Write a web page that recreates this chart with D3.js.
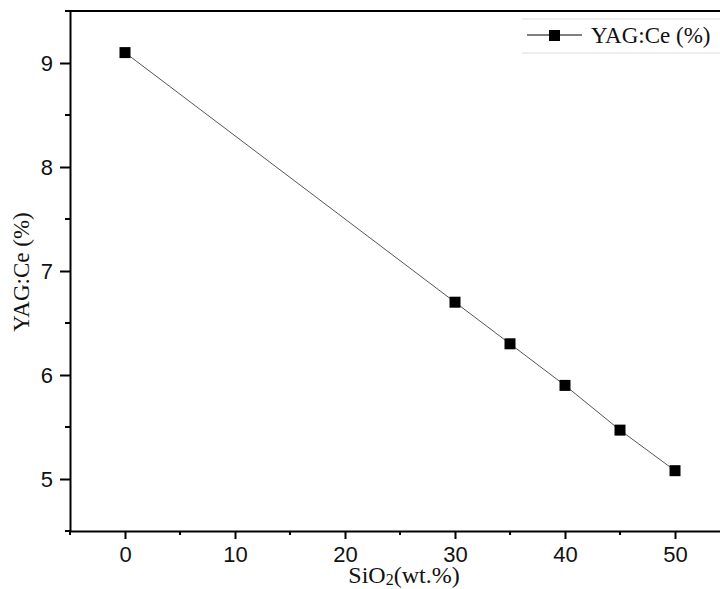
<!DOCTYPE html>
<html>
<head>
<meta charset="utf-8">
<script src="https://cdn.jsdelivr.net/npm/d3@7"></script>
<style>
  body { margin: 0; background: #fff; }
  svg { display: block; }
</style>
</head>
<body>
<div id="chart"></div>
<script>
  // data
  const sio2 = [0, 30, 35, 40, 45, 50];
  const yagCe = [9.1, 6.7, 6.3, 5.9, 5.47, 5.08];
  const xTicks = [0, 10, 20, 30, 40, 50];
  const yTicks = [5, 6, 7, 8, 9];
  const seriesName = "YAG:Ce (%)";

  const width = 720, height = 589;
  // plot box runs past the right edge of the picture
  const margin = {top: 11, left: 70, bottom: 58};

  const svg = d3.select("#chart").append("svg")
      .attr("width", width)
      .attr("height", height);

  const x = d3.scaleLinear().domain([-5, 55]).range([margin.left, margin.left + 660]);
  const y = d3.scaleLinear().domain([4.5, 9.5]).range([height - margin.bottom, margin.top]);

  const sans = "'Liberation Sans', Arial, sans-serif";
  const serif = "'Liberation Serif', 'Times New Roman', serif";

  // minor ticks
  const xMinor = d3.range(-5, 56, 5).filter(v => !xTicks.includes(v));
  const yMinor = d3.range(4.5, 9.6, 1);

  svg.append("g")
      .attr("transform", "translate(0," + y(4.5) + ")")
      .selectAll("line").data(xMinor).enter().append("line")
      .attr("x1", d => x(d)).attr("x2", d => x(d))
      .attr("y1", 0).attr("y2", 4)
      .attr("stroke", "#000").attr("stroke-width", 2);

  svg.append("g")
      .attr("transform", "translate(" + x(-5) + ",0)")
      .selectAll("line").data(yMinor).enter().append("line")
      .attr("y1", d => y(d)).attr("y2", d => y(d))
      .attr("x1", 0).attr("x2", -5)
      .attr("stroke", "#000").attr("stroke-width", 2);

  // axes
  const xAxis = svg.append("g")
      .attr("transform", "translate(0," + y(4.5) + ")")
      .call(d3.axisBottom(x).tickValues(xTicks).tickFormat(d3.format("d"))
        .tickSize(8).tickPadding(7).tickSizeOuter(0));

  const yAxis = svg.append("g")
      .attr("transform", "translate(" + x(-5) + ",0)")
      .call(d3.axisLeft(y).tickValues(yTicks).tickFormat(d3.format("d"))
        .tickSize(10).tickPadding(7).tickSizeOuter(0));

  [xAxis, yAxis].forEach(g => {
    g.select(".domain").attr("stroke-width", 2);
    g.selectAll(".tick line").attr("stroke-width", 2);
    g.selectAll(".tick text")
      .style("font-family", sans)
      .style("font-size", "22px")
      .attr("fill", "#111");
  });

  // top frame line
  svg.append("line")
      .attr("x1", x(-5) - 4).attr("x2", width)
      .attr("y1", y(9.5)).attr("y2", y(9.5))
      .attr("stroke", "#000").attr("stroke-width", 2);

  // data line and markers
  const pts = sio2.map((v, i) => [v, yagCe[i]]);
  svg.append("path")
      .datum(pts)
      .attr("fill", "none")
      .attr("stroke", "#555")
      .attr("stroke-width", 1)
      .attr("d", d3.line().x(d => x(d[0])).y(d => y(d[1])));

  svg.selectAll(".pt").data(pts).enter().append("rect")
      .attr("class", "pt")
      .attr("x", d => x(d[0]) - 5.5)
      .attr("y", d => y(d[1]) - 5.5)
      .attr("width", 11).attr("height", 11)
      .attr("fill", "#000");

  // axis titles
  const xt = svg.append("text")
      .attr("x", 404).attr("y", 583)
      .attr("text-anchor", "middle")
      .style("font-family", serif)
      .style("font-size", "24px")
      .attr("fill", "#111");
  xt.append("tspan").text("SiO");
  xt.append("tspan").attr("dy", 2).style("font-size", "16px").text("2");
  xt.append("tspan").attr("dy", -2).text("(wt.%)");

  svg.append("text")
      .attr("transform", "translate(29,272) rotate(-90)")
      .attr("text-anchor", "middle")
      .style("font-family", serif)
      .style("font-size", "23px")
      .attr("fill", "#111")
      .text(seriesName);

  // legend
  const leg = svg.append("g");
  leg.append("line").attr("x1", 522).attr("x2", width).attr("y1", 19).attr("y2", 19)
      .attr("stroke", "#ddd").attr("stroke-width", 1);
  leg.append("line").attr("x1", 522).attr("x2", width).attr("y1", 53).attr("y2", 53)
      .attr("stroke", "#ddd").attr("stroke-width", 1);
  leg.append("line").attr("x1", 527).attr("x2", 582).attr("y1", 35).attr("y2", 35)
      .attr("stroke", "#000").attr("stroke-width", 1.2);
  leg.append("rect").attr("x", 549).attr("y", 30).attr("width", 11).attr("height", 11)
      .attr("fill", "#000");
  leg.append("text")
      .attr("x", 591).attr("y", 43)
      .style("font-family", serif)
      .style("font-size", "23px")
      .attr("fill", "#111")
      .text(seriesName);
</script>
</body>
</html>
